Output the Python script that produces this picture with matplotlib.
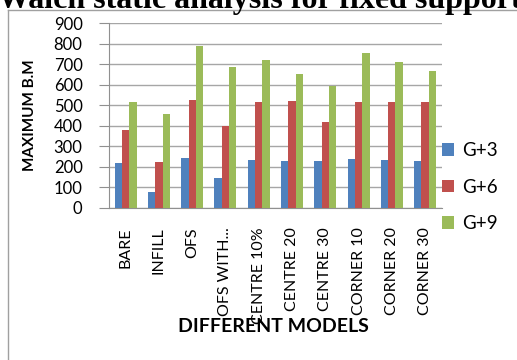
import numpy as np
import matplotlib.pyplot as plt
from matplotlib.lines import Line2D

# bending moment per model, three storey cases
models = ['BARE', 'INFILL', 'OFS', 'OFS WITH...', 'CENTRE 10%', 'CENTRE 20',
          'CENTRE 30', 'CORNER 10', 'CORNER 20', 'CORNER 30']
g3 = [220, 78, 243, 143, 233, 228, 228, 238, 233, 228]
g6 = [380, 224, 524, 399, 514, 521, 417, 514, 514, 514]
g9 = [515, 456, 791, 687, 719, 652, 594, 755, 710, 666]
series = ['G+3', 'G+6', 'G+9']
colors = ['#4F81BD', '#C0504D', '#9BBB59']

plt.rcParams['font.family'] = ['Lato', 'DejaVu Sans']

W, H = 517, 360
fig = plt.figure(figsize=(W / 100, H / 100), dpi=100)
aw = 441.7 - 109
ax = fig.add_axes([109 / W, 1 - 207.7 / H, aw / W, (207.7 - 23.3) / H])

x = np.arange(len(models))
bw = 0.22
for i, (vals, c) in enumerate(zip([g3, g6, g9], colors)):
    ax.bar(x + (i - 1) * bw, vals, width=bw, color=c, label=series[i], zorder=3)

ax.set_xlim(-0.5, len(models) - 0.5)
ax.set_ylim(0, 900)
ax.set_yticks(range(0, 901, 100))
ax.yaxis.grid(True, color='#A6A6A6', linewidth=1, zorder=0)
for s in ['top', 'right']:
    ax.spines[s].set_visible(False)
for s in ['left', 'bottom']:
    ax.spines[s].set_color('#909090')
ax.tick_params(axis='y', length=7, color='#909090', labelsize=12, pad=12)
ax.tick_params(axis='x', length=0, labelsize=11.5, pad=14)
ax.set_xticks(x)
ax.set_xticklabels(models, rotation=90, va='top', ha='center')

ax.set_ylabel('MAXIMUM B.M', fontsize=11, fontweight='bold')
ax.yaxis.set_label_coords(-72 / aw, 0.5)
fig.text(273 / W, 1 - 327 / H, 'DIFFERENT MODELS', fontsize=14, fontweight='bold',
         ha='center', va='center')

leg = ax.legend(loc='center left', bbox_to_anchor=(1.0, 0.112), frameon=False,
                fontsize=13.5, handlelength=0.65, handleheight=0.65,
                handletextpad=0.45, labelspacing=1.05, borderpad=0,
                borderaxespad=0)

# page heading above the chart, cut off at the top edge
fig.text(-2 / W, 1 - 8 / H, 'Walch static analysis for fixed support', fontsize=23,
         fontweight='bold', family='Liberation Serif', ha='left', va='baseline')

# chart frame
fig.add_artist(Line2D([7.5 / W, 7.5 / W], [0, 1 - 10 / H], color='#A0A0A0', lw=1,
                      transform=fig.transFigure))
fig.add_artist(Line2D([7.5 / W, 1], [1 - 10 / H, 1 - 10 / H], color='#A0A0A0', lw=1,
                      transform=fig.transFigure))

fig.savefig('out.png', dpi=100)
